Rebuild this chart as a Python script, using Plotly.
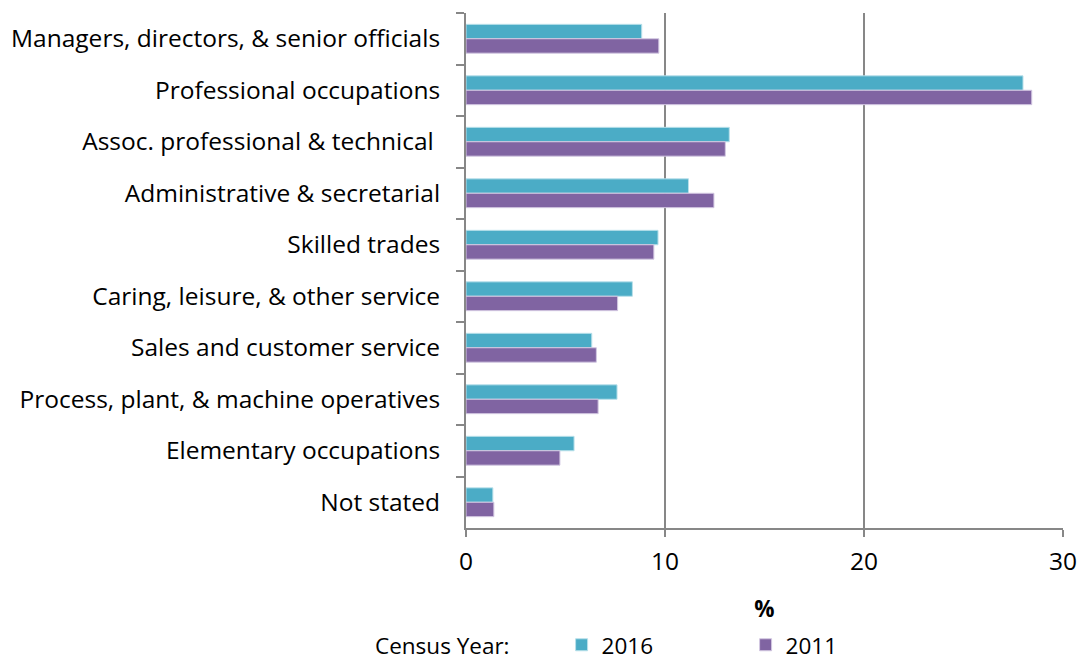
import plotly.graph_objects as go

categories = [
    "Managers, directors, & senior officials",
    "Professional occupations",
    "Assoc. professional & technical\u00a0",
    "Administrative & secretarial",
    "Skilled trades",
    "Caring, leisure, & other service",
    "Sales and customer service",
    "Process, plant, & machine operatives",
    "Elementary occupations",
    "Not stated",
]
values_2016 = [8.83, 27.99, 13.23, 11.18, 9.65, 8.36, 6.32, 7.59, 5.43, 1.35]
values_2011 = [9.69, 28.43, 13.03, 12.46, 9.44, 7.62, 6.55, 6.64, 4.72, 1.40]
x_ticks = [0, 10, 20, 30]

FONT = "Open Sans, Calibri, sans-serif"
GRID = "#878787"
FS = 24.5
LEG_FS = 22.5

fig = go.Figure()
fig.add_trace(go.Bar(
    y=categories, x=values_2016, name="2016", orientation="h",
    marker=dict(color="#4BACC6", line=dict(color="#B9E0EA", width=1)),
))
fig.add_trace(go.Bar(
    y=categories, x=values_2011, name="2011", orientation="h",
    marker=dict(color="#8064A2", line=dict(color="#D3C8E2", width=1)),
))

fig.add_annotation(
    text="Census Year:", xref="paper", yref="paper", x=-0.155, y=-0.228,
    xanchor="left", yanchor="middle", showarrow=False,
    font=dict(family=FONT, size=LEG_FS, color="black"),
)

fig.update_layout(
    width=1080, height=661,
    margin=dict(l=466, r=17, t=13, b=133, autoexpand=False),
    paper_bgcolor="white", plot_bgcolor="white",
    barmode="group", bargap=0.44, bargroupgap=0.0,
    font=dict(family=FONT, size=FS, color="black"),
    showlegend=True,
    legend=dict(
        orientation="h", xref="container", yref="container",
        x=0.52, xanchor="left", y=0.024, yanchor="middle",
        font=dict(size=LEG_FS), entrywidth=139, entrywidthmode="pixels",
        itemwidth=30, traceorder="normal",
    ),
    xaxis=dict(
        range=[0, 30], tickvals=x_ticks, showgrid=True, gridcolor=GRID, gridwidth=2,
        zeroline=False, showline=True, linecolor=GRID, linewidth=2,
        ticks="outside", ticklen=7, tickcolor=GRID, tickwidth=2,
        ticklabelstandoff=4,
        title=dict(text="<b>%</b>", font=dict(size=LEG_FS), standoff=37),
    ),
    yaxis=dict(
        autorange="reversed", showgrid=False, zeroline=False,
        showline=True, linecolor=GRID, linewidth=2,
        ticks="outside", tickson="boundaries", ticklen=8, tickcolor=GRID, tickwidth=2,
        ticklabelstandoff=19,
    ),
)

fig.write_html(
    "out.html",
    config={"displayModeBar": False},
    post_script="document.body.style.margin='0';",
)
